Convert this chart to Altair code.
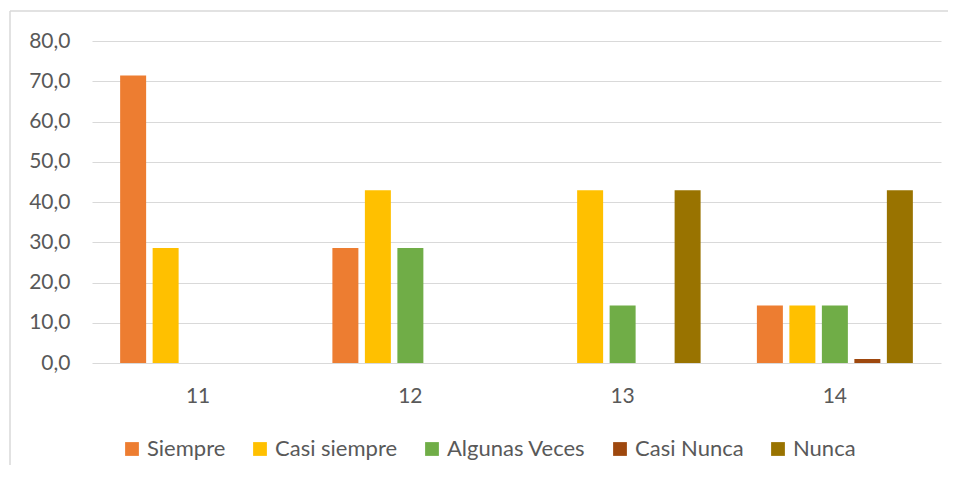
import altair as alt
import pandas as pd

groups = ["11", "12", "13", "14"]
series = ["Siempre", "Casi siempre", "Algunas Veces", "Casi Nunca", "Nunca"]
colors = ["#ED7D31", "#FFC000", "#70AD47", "#9E480E", "#997300"]
siempre = [71.4, 28.6, 0.0, 14.3]
casi_siempre = [28.6, 42.9, 42.9, 14.3]
algunas_veces = [0.0, 28.6, 14.3, 14.3]
casi_nunca = [0.0, 0.0, 0.0, 1.0]
nunca = [0.0, 0.0, 42.9, 42.9]
y_ticks = [0, 10, 20, 30, 40, 50, 60, 70, 80]

values = [siempre, casi_siempre, algunas_veces, casi_nunca, nunca]
rows = []
for s, vals in zip(series, values):
    for g, v in zip(groups, vals):
        rows.append({"grupo": g, "serie": s, "valor": v})
df = pd.DataFrame(rows)

FONT = "Lato"
TXT = "#595959"
GRID = "#d9d9d9"

bars = alt.Chart(df).mark_bar().encode(
    x=alt.X("grupo:N", sort=groups, title=None,
            scale=alt.Scale(paddingInner=0, paddingOuter=0),
            axis=alt.Axis(labelAngle=0, ticks=False, domain=False, grid=False,
                          labelFont=FONT, labelFontSize=21, labelColor=TXT,
                          labelPadding=22)),
    xOffset=alt.XOffset("serie:N", sort=series,
                        scale=alt.Scale(paddingInner=0.2, paddingOuter=0.866)),
    y=alt.Y("valor:Q", title=None,
            scale=alt.Scale(domain=[0, 80], nice=False),
            axis=alt.Axis(values=y_ticks, ticks=False, domain=False,
                          gridColor=GRID, gridWidth=1.2,
                          labelFont=FONT, labelFontSize=21, labelColor=TXT,
                          labelPadding=22,
                          labelExpr="replace(format(datum.value, '.1f'), '.', ',')")),
    color=alt.Color("serie:N", sort=series,
                    scale=alt.Scale(domain=series, range=colors),
                    legend=alt.Legend(title=None, orient="none", direction="horizontal",
                                      legendX=29, legendY=397,
                                      symbolType="square", symbolSize=190,
                                      symbolStrokeWidth=0, labelOffset=4,
                                      columnPadding=23, gridAlign="each", padding=0,
                                      labelFont=FONT, labelFontSize=22,
                                      labelColor=TXT)),
)

frame_df = pd.DataFrame({"a": [0]})
top_border = alt.Chart(frame_df).mark_rule(color=GRID, strokeWidth=1.5).encode(
    x=alt.value(-82), x2=alt.value(870), y=alt.value(-30))
left_border = alt.Chart(frame_df).mark_rule(color=GRID, strokeWidth=1.5).encode(
    x=alt.value(-82), y=alt.value(-30), y2=alt.value(440))

chart = alt.layer(bars, top_border, left_border).properties(
    width=849, height=322,
    autosize=alt.AutoSizeParams(type="none"),
    padding={"left": 84, "top": 33, "right": 7, "bottom": 102},
).configure_view(stroke=None)

chart.save("out.html", embed_options={"renderer": "svg", "actions": False})
